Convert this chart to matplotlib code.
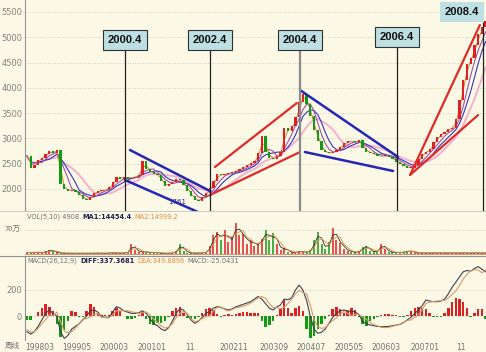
import numpy as np
import pandas as pd
import matplotlib
matplotlib.use('Agg')
import matplotlib.pyplot as plt
from matplotlib.lines import Line2D

W, H = 486, 352
BG = '#FBF9E6'
GRID = '#C8C6B0'
RED = '#E02020'
GREEN = '#129A12'
CJK = ['Noto Sans CJK SC', 'DejaVu Sans']

# monthly closes, 1998-03 .. 2008-06
close = [2650, 2420, 2470, 2580, 2620, 2690, 2745, 2710, 2770, 2100,
         2000, 1960, 1990, 1940, 1880, 1810, 1780, 1850, 1930, 1955,
         1975, 1985, 2030, 2130, 2240, 2200, 2240, 2200, 2225, 2245,
         2280, 2550, 2390, 2340, 2300, 2270, 2150, 2050, 2100, 2145,
         2190, 2170, 2080, 1960, 1860, 1790, 1760, 1850, 1930, 2010,
         2150, 2290, 2270, 2300, 2310, 2340, 2360, 2390, 2430, 2480,
         2510, 2560, 2720, 3040, 2740, 2620, 2600, 2650, 2740, 3200,
         3150, 3240, 3420, 3720, 3880, 3680, 3440, 3160, 2950, 2770,
         2725, 2705, 2740, 2780, 2840, 2900, 2950, 2940, 2920, 2960,
         2820, 2730, 2720, 2685, 2645, 2655, 2655, 2640, 2590, 2535,
         2500, 2450, 2420, 2420, 2470, 2600, 2700, 2740, 2790, 2920,
         3030, 3090, 3135, 3185, 3215, 3390, 3760, 4160, 4470, 4590,
         4840, 5060, 5210, 5320]

# volume in 万
volume = [5, 4, 6, 5, 4, 8, 12, 8, 5, 3,
          3, 2, 3, 2, 3, 2, 3, 2, 3, 3,
          2, 3, 3, 4, 3, 3, 4, 5, 30, 12,
          6, 8, 5, 4, 6, 3, 3, 2, 3, 3,
          10, 30, 10, 4, 3, 3, 3, 4, 5, 25,
          55, 64, 40, 70, 35, 50, 91, 55, 60, 30,
          40, 25, 30, 45, 70, 40, 61, 30, 12, 18,
          6, 5, 5, 8, 6, 5, 12, 40, 64, 30,
          15, 35, 76, 40, 33, 15, 10, 6, 5, 8,
          20, 24, 8, 6, 10, 30, 15, 6, 5, 5,
          5, 6, 10, 8, 4, 3, 4, 3, 3, 4,
          3, 4, 3, 3, 4, 3, 3, 4, 3, 3,
          4, 3, 3, 4]

# MACD panel: DIFF line and MACD bars
diff = [-120, -140, -120, -80, -30, 20, 46, 20, 0, -120,
        -172, -150, -100, -80, -60, -30, 0, 40, 46, 30,
        -5, -10, -10, 30, 72, 60, 40, 30, 20, 20,
        25, 40, 20, -20, -60, -74, -100, -113, -90, -40,
        20, 55, 46, 10, -30, -56, -40, -10, 20, 33,
        60, 72, 65, 55, 46, 55, 70, 80, 90, 100,
        110, 130, 150, 130, 95, 60, 46, 70, 85, 130,
        125, 140, 200, 238, 200, 120, -5, -100, -133, -125,
        -100, -56, -10, 20, 40, 46, 40, 35, 33, 10,
        -40, -60, -69, -75, -80, -82, -82, -80, -75, -70,
        -65, -50, -30, -10, 20, 46, 80, 123, 115, 110,
        110, 115, 130, 170, 220, 260, 300, 340, 350, 345,
        365, 380, 360, 340]
macd_bar = [-30, -30, 0, 30, 60, 95, 70, 40, -60, -160,
            -110, -40, 40, 30, -5, -10, 40, 90, 70, 20,
            10, 5, 10, 40, 60, 40, 0, -20, -25, -15,
            10, 30, -20, -60, -70, -55, -50, -40, -10, 40,
            65, 70, 20, -15, -20, -20, -10, 20, 50, 65,
            45, 15, -10, 10, 15, 10, 15, 25, 30, 30,
            20, 20, 25, -40, -82, -70, -40, 10, 60, 123,
            60, 20, 60, 80, 40, -100, -172, -150, -100, -60,
            -20, 10, 50, 72, 50, 20, 40, 60, 45, -10,
            -60, -74, -40, -20, -10, 10, 15, 15, 10, 5,
            -5, -5, 10, 40, 60, 72, 60, 50, 20, -5,
            -10, -5, 20, 60, 110, 136, 130, 110, 60, -5,
            20, 50, 55, -25]

tick_labels = ['199803', '199905', '200003', '200101', '11', '200211',
               '200309', '200407', '200505', '200603', '200701', '11']
tick_pos = [1998.50, 1999.33, 2000.15, 2001.00, 2001.85, 2002.84,
            2003.73, 2004.56, 2005.41, 2006.23, 2007.10, 2007.91]

event_labels = ['2000.4', '2002.4', '2004.4', '2006.4', '2008.4']
event_x = [2000.40, 2002.30, 2004.31, 2006.48, 2008.40]
event_top = [4750, 4750, 4750, 4800, 5300]
event_colors = ['#202020', '#202020', '#8A8A8A', '#202020', '#202020']
box_x = [2000.40, 2002.30, 2004.31, 2006.48, 2007.93]
box_y = [4946, 4946, 4946, 5005, 5499]

# trend lines: (x1, x2), (p1, p2)
blue_lines = [((2000.51, 2002.30), (2771, 1960)),
              ((2000.40, 2002.03), (2178, 1545)),
              ((2004.31, 2006.50), (3957, 2633)),
              ((2004.42, 2006.39), (2731, 2356))]
red_lines = [((2002.41, 2004.24), (2435, 3700)),
             ((2002.30, 2004.31), (1881, 2731)),
             ((2006.77, 2008.33), (2277, 5242)),
             ((2006.77, 2008.29), (2277, 3463))]

dates = pd.date_range('1998-03-01', periods=len(close), freq='MS')
x = np.array(dates.year + (dates.month - 0.5) / 12.0)
c = np.array(close, dtype=float)
o = np.r_[c[0], c[:-1]]
up = c >= o
s = pd.Series(c)
vol = np.array(volume, dtype=float)
dif = np.array(diff, dtype=float)
bar = np.array(macd_bar, dtype=float)
dea = dif - bar / 2

X0, X1 = 1998.165, 2008.467


def fx(px):
    return px / W


def fy(py):
    return 1 - py / H


fig = plt.figure(figsize=(W / 100, H / 100), dpi=100)
fig.patch.set_facecolor(BG)

ax = fig.add_axes([fx(25), fy(211), 1 - fx(25), fy(0) - fy(211)])
axv = fig.add_axes([fx(25), fy(256), 1 - fx(25), fy(211) - fy(256)])
axm = fig.add_axes([fx(25), fy(340), 1 - fx(25), fy(256) - fy(340)])

for a in (ax, axv, axm):
    a.set_facecolor(BG)
    a.set_xlim(X0, X1)
    for sp in a.spines.values():
        sp.set_visible(False)
    a.tick_params(length=0, labelsize=6, colors='#808080', pad=2)
    a.set_xticks([])
ax.spines['left'].set_visible(True)
ax.spines['left'].set_color('#909090')
axm.spines['left'].set_visible(True)
axm.spines['left'].set_color('#909090')

# ---- price panel
ax.set_ylim(1565, 5737)
ax.set_yticks(range(2000, 5501, 500))
ax.yaxis.grid(True, ls=(0, (1, 2)), color=GRID, lw=0.6)
ax.set_axisbelow(True)

ma_specs = [(10, '#F4B0CC', 1.4), (6, '#3434C0', 0.8), (4, '#A050A8', 0.8), (2, '#C8803C', 0.7)]
for w, col, lw in ma_specs:
    ax.plot(x, s.rolling(w, min_periods=1).mean(), color=col, lw=lw, zorder=2)

body = np.maximum(np.abs(c - o), 12)
ax.bar(x, body, bottom=np.minimum(c, o), width=0.05,
       color=np.where(up, RED, GREEN), zorder=3)

for (xs, ps) in blue_lines:
    ax.plot(xs, ps, color='#2626B4', lw=1.8, zorder=4, solid_capstyle='round')
for (xs, ps) in red_lines:
    ax.plot(xs, ps, color='#E02A2A', lw=1.6, zorder=4, solid_capstyle='round')

for ex, top, col in zip(event_x, event_top, event_colors):
    lw = 1.6 if col != '#202020' else 0.9
    ax.vlines(ex, 1565, top, color=col, lw=lw, zorder=5)

for i, (bx, by, lab) in enumerate(zip(box_x, box_y, event_labels)):
    ec = '#303030' if i < 4 else 'none'
    ax.text(bx, by, lab, ha='center', va='center', fontsize=8, fontweight='bold',
            family='Liberation Sans', color='#101010', zorder=6,
            bbox=dict(boxstyle='square,pad=0.45', fc='#BFE0E3', ec=ec, lw=0.8))

ax.text(2001.56, 1743, '1761', fontsize=5, color='#303080', ha='center',
        va='center', zorder=6)

# ---- volume panel
axv.set_ylim(-5.6, 126)
axv.set_yticks([70])
axv.set_yticklabels([])
axv.yaxis.grid(True, ls=(0, (1, 2)), color=GRID, lw=0.6)
axv.vlines(x, 0, vol, colors=np.where(up, RED, GREEN), lw=1.1, zorder=3)
vs = pd.Series(vol)
axv.plot(x, vs.rolling(2, min_periods=1).mean(), color='#303030', lw=0.6, zorder=4)
axv.plot(x, vs.rolling(3, min_periods=1).mean(), color='#E08A40', lw=0.6, zorder=4)
axv.axhline(0, color='#D08060', lw=0.6, zorder=2)

# ---- MACD panel
axm.set_ylim(-184.6, 461.5)
axm.set_yticks([0, 200])
axm.yaxis.grid(True, ls=(0, (1, 2)), color=GRID, lw=0.6)
axm.bar(x, bar, width=0.055, color=np.where(bar >= 0, RED, GREEN), zorder=3)
axm.plot(x, dif, color='#404050', lw=0.8, zorder=4)
axm.plot(x, dea, color='#D89A6A', lw=0.8, zorder=4)
axm.set_xticks(tick_pos)
axm.set_xticklabels(tick_labels, fontsize=5.5, color='#707070')
axm.tick_params(axis='x', pad=2)

# ---- header texts, placed one after another
renderer = fig.canvas.get_renderer()


def put_row(py, pieces, x0=27, gap=3):
    xpos = x0
    for txt, col, bold in pieces:
        t = fig.text(fx(xpos), fy(py), txt, color=col, fontsize=4.8, va='center',
                     ha='left', family='DejaVu Sans',
                     fontweight='bold' if bold else 'normal')
        xpos += t.get_window_extent(renderer).width + gap


put_row(217, [('VOL(5,10) 4908', '#707070', False),
              ('MA1:14454.4', '#202050', True),
              ('MA2:14999.2', '#E08A40', False)])
put_row(261, [('MACD(26,12,9)', '#707070', False),
              ('DIFF:337.3681', '#202050', True),
              ('DEA:349.8896', '#E08A40', False),
              ('MACD:-25.0431', '#707070', False)])

fig.text(fx(21), fy(230), '70万', fontsize=5.5, color='#707070', ha='right',
         va='center', family=CJK)
fig.text(fx(12), fy(346), '周线', fontsize=5.5, color='#707070', ha='center',
         va='center', family=CJK)

fig.add_artist(Line2D([0, 1], [fy(211), fy(211)], color='#C8C8C8', lw=0.7))
fig.add_artist(Line2D([0, 1], [fy(256), fy(256)], color='#909090', lw=0.8))

fig.savefig('out.png', dpi=100, facecolor=BG)
